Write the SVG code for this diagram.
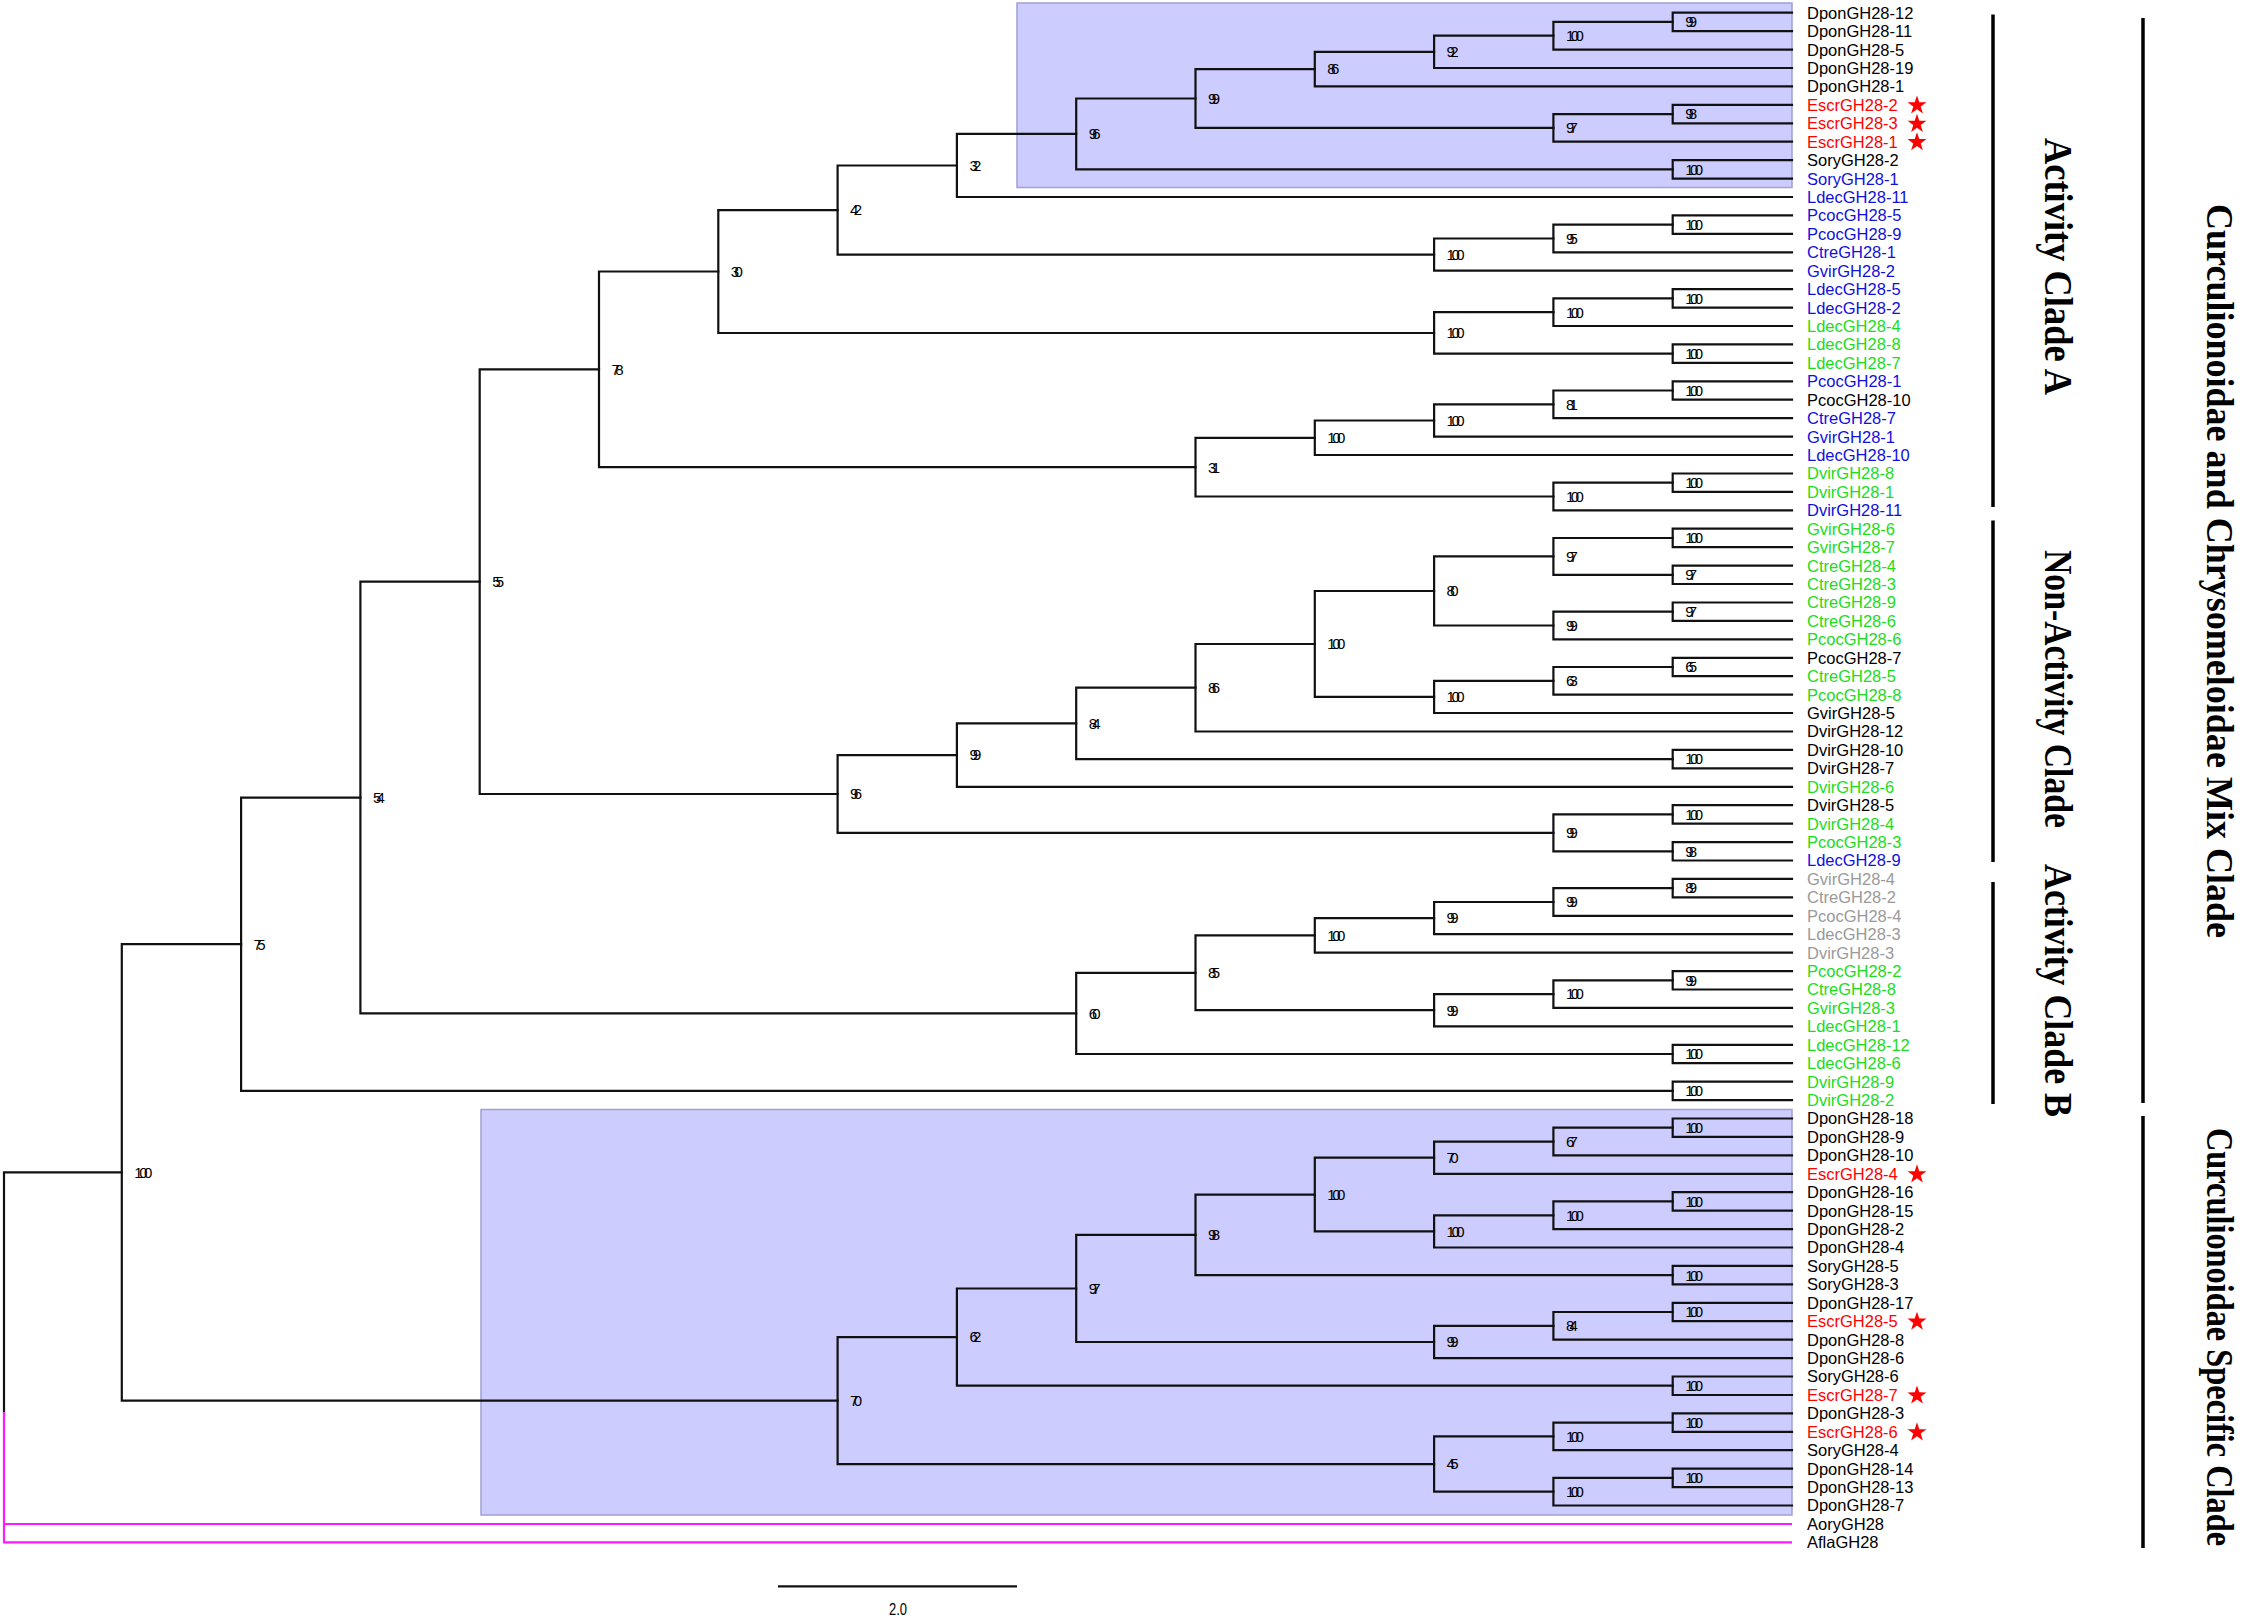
<svg xmlns="http://www.w3.org/2000/svg" width="2243" height="1620" viewBox="0 0 2243 1620">
<style>
.tr{fill:none;stroke:#111;stroke-width:2.2;stroke-linecap:square}
.mg{fill:none;stroke:#ff1aff;stroke-width:2.2}
.box{fill:#ccccff;stroke:#a0a0d2;stroke-width:1.5}
.lf{font-family:"Liberation Sans",Arial,sans-serif;font-size:16.5px}
.bs{font-family:"Liberation Sans",Arial,sans-serif;font-size:15px;fill:#000}
.cl{font-family:"Liberation Serif","Times New Roman",serif;font-size:40px;font-weight:bold;fill:#000}
.co{font-family:"Liberation Serif","Times New Roman",serif;font-size:38px;font-weight:bold;fill:#000}
.k{fill:#000}.r{fill:#ff0000}.b{fill:#1010dc}.g{fill:#20dc20}.y{fill:#9a9a9a}
.vl{stroke:#000;stroke-width:3.5}
</style>
<defs>
<polygon id="star" points="0,-10 2.29,-3.16 9.51,-3.09 3.71,1.21 5.88,8.09 0,3.9 -5.88,8.09 -3.71,1.21 -9.51,-3.09 -2.29,-3.16" fill="#ff0000"/>
</defs>
<rect width="2243" height="1620" fill="#fff"/>
<g id="highlights">
<rect class="box" x="1017" y="3" width="775" height="184.5"/>
<rect class="box" x="481" y="1109.5" width="1311" height="405.5"/>
</g>
<g id="connectors">
<path class="tr" d="M1792,12.7 H1672.7 V31.1 H1792"/>
<path class="tr" d="M1672.7,21.9 H1553.4 V49.6 H1792"/>
<path class="tr" d="M1553.4,35.7 H1434.1 V68.0 H1792"/>
<path class="tr" d="M1434.1,51.9 H1314.8 V86.4 H1792"/>
<path class="tr" d="M1792,104.9 H1672.7 V123.3 H1792"/>
<path class="tr" d="M1672.7,114.1 H1553.4 V141.7 H1792"/>
<path class="tr" d="M1314.8,69.1 H1195.5 V127.9 H1553.4"/>
<path class="tr" d="M1792,160.1 H1672.7 V178.6 H1792"/>
<path class="tr" d="M1195.5,98.5 H1076.2 V169.4 H1672.7"/>
<path class="tr" d="M1076.2,133.9 H956.9 V197.0 H1792"/>
<path class="tr" d="M1792,215.4 H1672.7 V233.9 H1792"/>
<path class="tr" d="M1672.7,224.6 H1553.4 V252.3 H1792"/>
<path class="tr" d="M1553.4,238.5 H1434.1 V270.7 H1792"/>
<path class="tr" d="M956.9,165.5 H837.6 V254.6 H1434.1"/>
<path class="tr" d="M1792,289.2 H1672.7 V307.6 H1792"/>
<path class="tr" d="M1672.7,298.4 H1553.4 V326.0 H1792"/>
<path class="tr" d="M1792,344.4 H1672.7 V362.9 H1792"/>
<path class="tr" d="M1553.4,312.2 H1434.1 V353.7 H1672.7"/>
<path class="tr" d="M837.6,210.1 H718.3 V333.0 H1434.1"/>
<path class="tr" d="M1792,381.3 H1672.7 V399.7 H1792"/>
<path class="tr" d="M1672.7,390.5 H1553.4 V418.2 H1792"/>
<path class="tr" d="M1553.4,404.4 H1434.1 V436.6 H1792"/>
<path class="tr" d="M1434.1,420.5 H1314.8 V455.0 H1792"/>
<path class="tr" d="M1792,473.5 H1672.7 V491.9 H1792"/>
<path class="tr" d="M1672.7,482.7 H1553.4 V510.3 H1792"/>
<path class="tr" d="M1314.8,437.8 H1195.5 V496.5 H1553.4"/>
<path class="tr" d="M718.3,271.5 H599.0 V467.2 H1195.5"/>
<path class="tr" d="M1792,528.7 H1672.7 V547.2 H1792"/>
<path class="tr" d="M1792,565.6 H1672.7 V584.0 H1792"/>
<path class="tr" d="M1672.7,538.0 H1553.4 V574.8 H1672.7"/>
<path class="tr" d="M1792,602.5 H1672.7 V620.9 H1792"/>
<path class="tr" d="M1672.7,611.7 H1553.4 V639.3 H1792"/>
<path class="tr" d="M1553.4,556.4 H1434.1 V625.5 H1553.4"/>
<path class="tr" d="M1792,657.8 H1672.7 V676.2 H1792"/>
<path class="tr" d="M1672.7,667.0 H1553.4 V694.6 H1792"/>
<path class="tr" d="M1553.4,680.8 H1434.1 V713.0 H1792"/>
<path class="tr" d="M1434.1,591.0 H1314.8 V696.9 H1434.1"/>
<path class="tr" d="M1314.8,644.0 H1195.5 V731.5 H1792"/>
<path class="tr" d="M1792,749.9 H1672.7 V768.3 H1792"/>
<path class="tr" d="M1195.5,687.7 H1076.2 V759.1 H1672.7"/>
<path class="tr" d="M1076.2,723.4 H956.9 V786.8 H1792"/>
<path class="tr" d="M1792,805.2 H1672.7 V823.6 H1792"/>
<path class="tr" d="M1792,842.1 H1672.7 V860.5 H1792"/>
<path class="tr" d="M1672.7,814.4 H1553.4 V851.3 H1672.7"/>
<path class="tr" d="M956.9,755.1 H837.6 V832.9 H1553.4"/>
<path class="tr" d="M599.0,369.3 H479.7 V794.0 H837.6"/>
<path class="tr" d="M1792,878.9 H1672.7 V897.3 H1792"/>
<path class="tr" d="M1672.7,888.1 H1553.4 V915.8 H1792"/>
<path class="tr" d="M1553.4,902.0 H1434.1 V934.2 H1792"/>
<path class="tr" d="M1434.1,918.1 H1314.8 V952.6 H1792"/>
<path class="tr" d="M1792,971.1 H1672.7 V989.5 H1792"/>
<path class="tr" d="M1672.7,980.3 H1553.4 V1007.9 H1792"/>
<path class="tr" d="M1553.4,994.1 H1434.1 V1026.4 H1792"/>
<path class="tr" d="M1314.8,935.4 H1195.5 V1010.2 H1434.1"/>
<path class="tr" d="M1792,1044.8 H1672.7 V1063.2 H1792"/>
<path class="tr" d="M1195.5,972.8 H1076.2 V1054.0 H1672.7"/>
<path class="tr" d="M479.7,581.7 H360.4 V1013.4 H1076.2"/>
<path class="tr" d="M1792,1081.6 H1672.7 V1100.1 H1792"/>
<path class="tr" d="M360.4,797.6 H241.1 V1090.9 H1672.7"/>
<path class="tr" d="M1792,1118.5 H1672.7 V1136.9 H1792"/>
<path class="tr" d="M1672.7,1127.7 H1553.4 V1155.4 H1792"/>
<path class="tr" d="M1553.4,1141.6 H1434.1 V1173.8 H1792"/>
<path class="tr" d="M1792,1192.2 H1672.7 V1210.7 H1792"/>
<path class="tr" d="M1672.7,1201.4 H1553.4 V1229.1 H1792"/>
<path class="tr" d="M1553.4,1215.3 H1434.1 V1247.5 H1792"/>
<path class="tr" d="M1434.1,1157.7 H1314.8 V1231.4 H1434.1"/>
<path class="tr" d="M1792,1265.9 H1672.7 V1284.4 H1792"/>
<path class="tr" d="M1314.8,1194.6 H1195.5 V1275.2 H1672.7"/>
<path class="tr" d="M1792,1302.8 H1672.7 V1321.2 H1792"/>
<path class="tr" d="M1672.7,1312.0 H1553.4 V1339.7 H1792"/>
<path class="tr" d="M1553.4,1325.9 H1434.1 V1358.1 H1792"/>
<path class="tr" d="M1195.5,1234.9 H1076.2 V1342.0 H1434.1"/>
<path class="tr" d="M1792,1376.5 H1672.7 V1395.0 H1792"/>
<path class="tr" d="M1076.2,1288.5 H956.9 V1385.7 H1672.7"/>
<path class="tr" d="M1792,1413.4 H1672.7 V1431.8 H1792"/>
<path class="tr" d="M1672.7,1422.6 H1553.4 V1450.2 H1792"/>
<path class="tr" d="M1792,1468.7 H1672.7 V1487.1 H1792"/>
<path class="tr" d="M1672.7,1477.9 H1553.4 V1505.5 H1792"/>
<path class="tr" d="M1553.4,1436.4 H1434.1 V1491.7 H1553.4"/>
<path class="tr" d="M956.9,1337.1 H837.6 V1464.1 H1434.1"/>
<path class="tr" d="M241.1,944.2 H121.8 V1400.6 H837.6"/>
<path class="tr" d="M121.8,1172.4 H4 V1412"/>
<path class="mg" d="M4,1412 V1542.4 H1792 M4,1524.0 H1792"/>
</g>
<g id="bootstrap" class="bs">
<g id="n1"><text x="1685.2" y="27.2" textLength="12">99</text></g>
<g id="n2"><text x="1565.9" y="41.0" textLength="18">100</text></g>
<g id="n3"><text x="1446.6" y="57.2" textLength="12">92</text></g>
<g id="n4"><text x="1327.3" y="74.4" textLength="12">86</text></g>
<g id="n5"><text x="1685.2" y="119.4" textLength="12">98</text></g>
<g id="n6"><text x="1565.9" y="133.2" textLength="12">97</text></g>
<g id="n7"><text x="1208.0" y="103.8" textLength="12">99</text></g>
<g id="n8"><text x="1685.2" y="174.7" textLength="18">100</text></g>
<g id="n9"><text x="1088.7" y="139.2" textLength="12">96</text></g>
<g id="n10"><text x="969.4" y="170.8" textLength="12">32</text></g>
<g id="n11"><text x="1685.2" y="229.9" textLength="18">100</text></g>
<g id="n12"><text x="1565.9" y="243.8" textLength="12">95</text></g>
<g id="n13"><text x="1446.6" y="259.9" textLength="18">100</text></g>
<g id="n14"><text x="850.1" y="215.4" textLength="12">42</text></g>
<g id="n15"><text x="1685.2" y="303.7" textLength="18">100</text></g>
<g id="n16"><text x="1565.9" y="317.5" textLength="18">100</text></g>
<g id="n17"><text x="1685.2" y="359.0" textLength="18">100</text></g>
<g id="n18"><text x="1446.6" y="338.3" textLength="18">100</text></g>
<g id="n19"><text x="730.8" y="276.8" textLength="12">30</text></g>
<g id="n20"><text x="1685.2" y="395.8" textLength="18">100</text></g>
<g id="n21"><text x="1565.9" y="409.7" textLength="12">81</text></g>
<g id="n22"><text x="1446.6" y="425.8" textLength="18">100</text></g>
<g id="n23"><text x="1327.3" y="443.1" textLength="18">100</text></g>
<g id="n24"><text x="1685.2" y="488.0" textLength="18">100</text></g>
<g id="n25"><text x="1565.9" y="501.8" textLength="18">100</text></g>
<g id="n26"><text x="1208.0" y="472.5" textLength="12">31</text></g>
<g id="n27"><text x="611.5" y="374.6" textLength="12">78</text></g>
<g id="n28"><text x="1685.2" y="543.3" textLength="18">100</text></g>
<g id="n29"><text x="1685.2" y="580.1" textLength="12">97</text></g>
<g id="n30"><text x="1565.9" y="561.7" textLength="12">97</text></g>
<g id="n31"><text x="1685.2" y="617.0" textLength="12">97</text></g>
<g id="n32"><text x="1565.9" y="630.8" textLength="12">99</text></g>
<g id="n33"><text x="1446.6" y="596.3" textLength="12">80</text></g>
<g id="n34"><text x="1685.2" y="672.3" textLength="12">65</text></g>
<g id="n35"><text x="1565.9" y="686.1" textLength="12">63</text></g>
<g id="n36"><text x="1446.6" y="702.2" textLength="18">100</text></g>
<g id="n37"><text x="1327.3" y="649.3" textLength="18">100</text></g>
<g id="n38"><text x="1208.0" y="693.0" textLength="12">86</text></g>
<g id="n39"><text x="1685.2" y="764.4" textLength="18">100</text></g>
<g id="n40"><text x="1088.7" y="728.7" textLength="12">84</text></g>
<g id="n41"><text x="969.4" y="760.4" textLength="12">99</text></g>
<g id="n42"><text x="1685.2" y="819.7" textLength="18">100</text></g>
<g id="n43"><text x="1685.2" y="856.6" textLength="12">98</text></g>
<g id="n44"><text x="1565.9" y="838.2" textLength="12">99</text></g>
<g id="n45"><text x="850.1" y="799.3" textLength="12">96</text></g>
<g id="n46"><text x="492.2" y="587.0" textLength="12">55</text></g>
<g id="n47"><text x="1685.2" y="893.4" textLength="12">89</text></g>
<g id="n48"><text x="1565.9" y="907.3" textLength="12">99</text></g>
<g id="n49"><text x="1446.6" y="923.4" textLength="12">99</text></g>
<g id="n50"><text x="1327.3" y="940.7" textLength="18">100</text></g>
<g id="n51"><text x="1685.2" y="985.6" textLength="12">99</text></g>
<g id="n52"><text x="1565.9" y="999.4" textLength="18">100</text></g>
<g id="n53"><text x="1446.6" y="1015.5" textLength="12">99</text></g>
<g id="n54"><text x="1208.0" y="978.1" textLength="12">85</text></g>
<g id="n55"><text x="1685.2" y="1059.3" textLength="18">100</text></g>
<g id="n56"><text x="1088.7" y="1018.7" textLength="12">60</text></g>
<g id="n57"><text x="372.9" y="802.9" textLength="12">54</text></g>
<g id="n58"><text x="1685.2" y="1096.2" textLength="18">100</text></g>
<g id="n59"><text x="253.6" y="949.5" textLength="12">75</text></g>
<g id="n60"><text x="1685.2" y="1133.0" textLength="18">100</text></g>
<g id="n61"><text x="1565.9" y="1146.9" textLength="12">67</text></g>
<g id="n62"><text x="1446.6" y="1163.0" textLength="12">70</text></g>
<g id="n63"><text x="1685.2" y="1206.7" textLength="18">100</text></g>
<g id="n64"><text x="1565.9" y="1220.6" textLength="18">100</text></g>
<g id="n65"><text x="1446.6" y="1236.7" textLength="18">100</text></g>
<g id="n66"><text x="1327.3" y="1199.9" textLength="18">100</text></g>
<g id="n67"><text x="1685.2" y="1280.5" textLength="18">100</text></g>
<g id="n68"><text x="1208.0" y="1240.2" textLength="12">98</text></g>
<g id="n69"><text x="1685.2" y="1317.3" textLength="18">100</text></g>
<g id="n70"><text x="1565.9" y="1331.2" textLength="12">84</text></g>
<g id="n71"><text x="1446.6" y="1347.3" textLength="12">99</text></g>
<g id="n72"><text x="1088.7" y="1293.8" textLength="12">97</text></g>
<g id="n73"><text x="1685.2" y="1391.0" textLength="18">100</text></g>
<g id="n74"><text x="969.4" y="1342.4" textLength="12">62</text></g>
<g id="n75"><text x="1685.2" y="1427.9" textLength="18">100</text></g>
<g id="n76"><text x="1565.9" y="1441.7" textLength="18">100</text></g>
<g id="n77"><text x="1685.2" y="1483.2" textLength="18">100</text></g>
<g id="n78"><text x="1565.9" y="1497.0" textLength="18">100</text></g>
<g id="n79"><text x="1446.6" y="1469.4" textLength="12">45</text></g>
<g id="n80"><text x="850.1" y="1405.9" textLength="12">70</text></g>
<g id="n81"><text x="134.3" y="1177.7" textLength="18">100</text></g>
</g>
<g id="leaves" class="lf">
<g id="t1"><text class="k" x="1807" y="18.6">DponGH28-12</text></g>
<g id="t2"><text class="k" x="1807" y="37.0">DponGH28-11</text></g>
<g id="t3"><text class="k" x="1807" y="55.5">DponGH28-5</text></g>
<g id="t4"><text class="k" x="1807" y="73.9">DponGH28-19</text></g>
<g id="t5"><text class="k" x="1807" y="92.3">DponGH28-1</text></g>
<g id="t6"><text class="r" x="1807" y="110.8">EscrGH28-2</text><use href="#star" x="1917" y="105.4"/></g>
<g id="t7"><text class="r" x="1807" y="129.2">EscrGH28-3</text><use href="#star" x="1917" y="123.8"/></g>
<g id="t8"><text class="r" x="1807" y="147.6">EscrGH28-1</text><use href="#star" x="1917" y="142.2"/></g>
<g id="t9"><text class="k" x="1807" y="166.0">SoryGH28-2</text></g>
<g id="t10"><text class="b" x="1807" y="184.5">SoryGH28-1</text></g>
<g id="t11"><text class="b" x="1807" y="202.9">LdecGH28-11</text></g>
<g id="t12"><text class="b" x="1807" y="221.3">PcocGH28-5</text></g>
<g id="t13"><text class="b" x="1807" y="239.8">PcocGH28-9</text></g>
<g id="t14"><text class="b" x="1807" y="258.2">CtreGH28-1</text></g>
<g id="t15"><text class="b" x="1807" y="276.6">GvirGH28-2</text></g>
<g id="t16"><text class="b" x="1807" y="295.1">LdecGH28-5</text></g>
<g id="t17"><text class="b" x="1807" y="313.5">LdecGH28-2</text></g>
<g id="t18"><text class="g" x="1807" y="331.9">LdecGH28-4</text></g>
<g id="t19"><text class="g" x="1807" y="350.3">LdecGH28-8</text></g>
<g id="t20"><text class="g" x="1807" y="368.8">LdecGH28-7</text></g>
<g id="t21"><text class="b" x="1807" y="387.2">PcocGH28-1</text></g>
<g id="t22"><text class="k" x="1807" y="405.6">PcocGH28-10</text></g>
<g id="t23"><text class="b" x="1807" y="424.1">CtreGH28-7</text></g>
<g id="t24"><text class="b" x="1807" y="442.5">GvirGH28-1</text></g>
<g id="t25"><text class="b" x="1807" y="460.9">LdecGH28-10</text></g>
<g id="t26"><text class="g" x="1807" y="479.4">DvirGH28-8</text></g>
<g id="t27"><text class="g" x="1807" y="497.8">DvirGH28-1</text></g>
<g id="t28"><text class="b" x="1807" y="516.2">DvirGH28-11</text></g>
<g id="t29"><text class="g" x="1807" y="534.6">GvirGH28-6</text></g>
<g id="t30"><text class="g" x="1807" y="553.1">GvirGH28-7</text></g>
<g id="t31"><text class="g" x="1807" y="571.5">CtreGH28-4</text></g>
<g id="t32"><text class="g" x="1807" y="589.9">CtreGH28-3</text></g>
<g id="t33"><text class="g" x="1807" y="608.4">CtreGH28-9</text></g>
<g id="t34"><text class="g" x="1807" y="626.8">CtreGH28-6</text></g>
<g id="t35"><text class="g" x="1807" y="645.2">PcocGH28-6</text></g>
<g id="t36"><text class="k" x="1807" y="663.7">PcocGH28-7</text></g>
<g id="t37"><text class="g" x="1807" y="682.1">CtreGH28-5</text></g>
<g id="t38"><text class="g" x="1807" y="700.5">PcocGH28-8</text></g>
<g id="t39"><text class="k" x="1807" y="718.9">GvirGH28-5</text></g>
<g id="t40"><text class="k" x="1807" y="737.4">DvirGH28-12</text></g>
<g id="t41"><text class="k" x="1807" y="755.8">DvirGH28-10</text></g>
<g id="t42"><text class="k" x="1807" y="774.2">DvirGH28-7</text></g>
<g id="t43"><text class="g" x="1807" y="792.7">DvirGH28-6</text></g>
<g id="t44"><text class="k" x="1807" y="811.1">DvirGH28-5</text></g>
<g id="t45"><text class="g" x="1807" y="829.5">DvirGH28-4</text></g>
<g id="t46"><text class="g" x="1807" y="848.0">PcocGH28-3</text></g>
<g id="t47"><text class="b" x="1807" y="866.4">LdecGH28-9</text></g>
<g id="t48"><text class="y" x="1807" y="884.8">GvirGH28-4</text></g>
<g id="t49"><text class="y" x="1807" y="903.2">CtreGH28-2</text></g>
<g id="t50"><text class="y" x="1807" y="921.7">PcocGH28-4</text></g>
<g id="t51"><text class="y" x="1807" y="940.1">LdecGH28-3</text></g>
<g id="t52"><text class="y" x="1807" y="958.5">DvirGH28-3</text></g>
<g id="t53"><text class="g" x="1807" y="977.0">PcocGH28-2</text></g>
<g id="t54"><text class="g" x="1807" y="995.4">CtreGH28-8</text></g>
<g id="t55"><text class="g" x="1807" y="1013.8">GvirGH28-3</text></g>
<g id="t56"><text class="g" x="1807" y="1032.3">LdecGH28-1</text></g>
<g id="t57"><text class="g" x="1807" y="1050.7">LdecGH28-12</text></g>
<g id="t58"><text class="g" x="1807" y="1069.1">LdecGH28-6</text></g>
<g id="t59"><text class="g" x="1807" y="1087.5">DvirGH28-9</text></g>
<g id="t60"><text class="g" x="1807" y="1106.0">DvirGH28-2</text></g>
<g id="t61"><text class="k" x="1807" y="1124.4">DponGH28-18</text></g>
<g id="t62"><text class="k" x="1807" y="1142.8">DponGH28-9</text></g>
<g id="t63"><text class="k" x="1807" y="1161.3">DponGH28-10</text></g>
<g id="t64"><text class="r" x="1807" y="1179.7">EscrGH28-4</text><use href="#star" x="1917" y="1174.3"/></g>
<g id="t65"><text class="k" x="1807" y="1198.1">DponGH28-16</text></g>
<g id="t66"><text class="k" x="1807" y="1216.6">DponGH28-15</text></g>
<g id="t67"><text class="k" x="1807" y="1235.0">DponGH28-2</text></g>
<g id="t68"><text class="k" x="1807" y="1253.4">DponGH28-4</text></g>
<g id="t69"><text class="k" x="1807" y="1271.8">SoryGH28-5</text></g>
<g id="t70"><text class="k" x="1807" y="1290.3">SoryGH28-3</text></g>
<g id="t71"><text class="k" x="1807" y="1308.7">DponGH28-17</text></g>
<g id="t72"><text class="r" x="1807" y="1327.1">EscrGH28-5</text><use href="#star" x="1917" y="1321.7"/></g>
<g id="t73"><text class="k" x="1807" y="1345.6">DponGH28-8</text></g>
<g id="t74"><text class="k" x="1807" y="1364.0">DponGH28-6</text></g>
<g id="t75"><text class="k" x="1807" y="1382.4">SoryGH28-6</text></g>
<g id="t76"><text class="r" x="1807" y="1400.9">EscrGH28-7</text><use href="#star" x="1917" y="1395.5"/></g>
<g id="t77"><text class="k" x="1807" y="1419.3">DponGH28-3</text></g>
<g id="t78"><text class="r" x="1807" y="1437.7">EscrGH28-6</text><use href="#star" x="1917" y="1432.3"/></g>
<g id="t79"><text class="k" x="1807" y="1456.1">SoryGH28-4</text></g>
<g id="t80"><text class="k" x="1807" y="1474.6">DponGH28-14</text></g>
<g id="t81"><text class="k" x="1807" y="1493.0">DponGH28-13</text></g>
<g id="t82"><text class="k" x="1807" y="1511.4">DponGH28-7</text></g>
<g id="t83"><text class="k" x="1807" y="1529.9">AoryGH28</text></g>
<g id="t84"><text class="k" x="1807" y="1548.3">AflaGH28</text></g>
</g>
<g id="clades">
<line class="vl" x1="1993" y1="14.5" x2="1993" y2="507"/>
<line class="vl" x1="1993" y1="520.5" x2="1993" y2="862"/>
<line class="vl" x1="1993" y1="882" x2="1993" y2="1104"/>
<line class="vl" x1="2143" y1="18" x2="2143" y2="1103"/>
<line class="vl" x1="2143" y1="1116" x2="2143" y2="1548"/>
<text class="cl" transform="translate(2045,266.5) rotate(90)" text-anchor="middle" textLength="257" lengthAdjust="spacingAndGlyphs">Activity Clade A</text>
<text class="cl" transform="translate(2045,689) rotate(90)" text-anchor="middle" textLength="278" lengthAdjust="spacingAndGlyphs">Non-Activity Clade</text>
<text class="cl" transform="translate(2045,990.5) rotate(90)" text-anchor="middle" textLength="253" lengthAdjust="spacingAndGlyphs">Activity Clade B</text>
<text class="co" transform="translate(2207,571) rotate(90)" text-anchor="middle" textLength="734" lengthAdjust="spacingAndGlyphs">Curculionoidae and Chrysomeloidae Mix Clade</text>
<text class="co" transform="translate(2207,1337) rotate(90)" text-anchor="middle" textLength="418" lengthAdjust="spacingAndGlyphs">Curculionoidae Specific Clade</text>
</g>
<g id="scalebar">
<line x1="778" y1="1586.3" x2="1017" y2="1586.3" stroke="#111" stroke-width="2.2"/>
<text x="898" y="1615" text-anchor="middle" font-family="Liberation Sans, Arial, sans-serif" font-size="16" textLength="18" lengthAdjust="spacingAndGlyphs">2.0</text>
</g>
</svg>
